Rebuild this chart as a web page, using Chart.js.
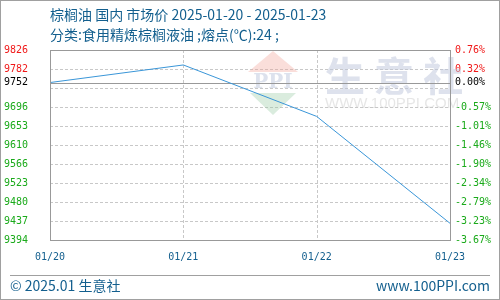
<!DOCTYPE html>
<html>
<head>
<meta charset="utf-8">
<script src="https://cdn.jsdelivr.net/npm/chart.js@4.4.1/dist/chart.umd.min.js"></script>
<style>
  html, body { margin: 0; padding: 0; background: #fff; }
  #wrap { width: 500px; height: 300px; position: relative; }
</style>
</head>
<body>
<div id="wrap"><canvas id="priceChart" width="500" height="300"></canvas></div>
<script>
// 数据
const categories = ['01/20', '01/21', '01/22', '01/23'];
const prices = [9752, 9792, 9675, 9432];
const basePrice = 9752;
const yTicks = [9394, 9437.2, 9480.4, 9523.6, 9566.8, 9610, 9653.2, 9696.4, 9739.6, 9782.8, 9826];
const yLabels = ['9394', '9437', '9480', '9523', '9566', '9610', '9653', '9696', '', '9782', '9826'];
const pctLabels = ['-3.67%', '-3.23%', '-2.79%', '-2.34%', '-1.90%', '-1.46%', '-1.01%', '-0.57%', '', '0.32%', '0.76%'];

const titleText = '棕榈油 国内 市场价 2025-01-20 - 2025-01-23';
const subText = '分类:食用精炼棕榈液油 ;熔点(℃):24 ;';

const RED = '#f01818';
const GREEN = '#1aaa1a';
const BLUE = '#135f8e';
const MONO = "'DejaVu Sans Mono', monospace";
const CLEAR = 'rgba(0,0,0,0)';

function tickColor(v) {
  if (v > basePrice) return RED;
  if (v === basePrice) return '#000';
  return GREEN;
}

function setTicks(scale) {
  const vals = yTicks.concat([basePrice]).sort((a, b) => a - b);
  scale.ticks = vals.map(v => ({ value: v }));
}

// 网格, 水印, 标题, 边框
const decor = {
  id: 'decor',
  beforeDatasetsDraw(chart) {
    const ctx = chart.ctx;
    const a = chart.chartArea;
    const y = chart.scales.y;
    const x = chart.scales.x;
    ctx.save();
    // 虚线网格
    ctx.strokeStyle = '#c8c8c8';
    ctx.lineWidth = 1;
    ctx.setLineDash([3, 2]);
    ctx.beginPath();
    yTicks.forEach(v => {
      const py = Math.round(y.getPixelForValue(v)) + 0.5;
      ctx.moveTo(a.left, py); ctx.lineTo(a.right, py);
    });
    categories.forEach((c, i) => {
      const px = Math.round(x.getPixelForValue(i)) + 0.5;
      ctx.moveTo(px, a.top); ctx.lineTo(px, a.bottom);
    });
    ctx.stroke();
    ctx.setLineDash([]);
    // logo
    ctx.fillStyle = 'rgba(240,160,150,0.35)';
    ctx.beginPath();
    ctx.moveTo(273, 51); ctx.lineTo(298, 72); ctx.lineTo(248, 72); ctx.closePath(); ctx.fill();
    ctx.fillStyle = 'rgba(150,200,160,0.35)';
    ctx.beginPath();
    ctx.moveTo(250, 93); ctx.lineTo(296, 93); ctx.lineTo(273, 115); ctx.closePath(); ctx.fill();
    ctx.fillStyle = 'rgba(180,190,215,0.45)';
    ctx.font = "bold 20px 'DejaVu Serif', serif";
    ctx.textAlign = 'center';
    ctx.textBaseline = 'middle';
    ctx.fillText('PPI', 273, 83);
    ctx.fillStyle = 'rgba(190,198,220,0.5)';
    ctx.font = "bold 40px 'Noto Sans CJK SC'";
    ctx.textAlign = 'left';
    ctx.fillText('生 意 社', 325, 76);
    ctx.fillStyle = 'rgba(200,200,200,0.45)';
    ctx.font = "15px 'Liberation Sans'";
    ctx.fillText('WWW.100PPI.COM', 325, 104);
    // 基准线
    const yb = Math.round(y.getPixelForValue(basePrice)) + 0.5;
    ctx.strokeStyle = '#999';
    ctx.beginPath();
    ctx.moveTo(a.left, yb); ctx.lineTo(a.right, yb); ctx.stroke();
    ctx.restore();
  },
  afterDraw(chart) {
    const ctx = chart.ctx;
    const a = chart.chartArea;
    ctx.save();
    ctx.strokeStyle = '#999';
    ctx.lineWidth = 1;
    ctx.strokeRect(Math.round(a.left) + 0.5, Math.round(a.top) + 0.5, Math.round(a.right - a.left), Math.round(a.bottom - a.top));
    ctx.strokeStyle = '#a0a0a0';
    ctx.strokeRect(0.5, 0.5, 499, 299);
    ctx.beginPath();
    ctx.moveTo(10, 275.5); ctx.lineTo(490, 275.5); ctx.stroke();

    ctx.fillStyle = BLUE;
    ctx.textBaseline = 'middle';
    ctx.textAlign = 'left';
    ctx.font = "14px 'Noto Sans CJK SC'";
    ctx.fillText(titleText, 50, 15);
    ctx.fillText(subText, 50, 35);
    ctx.fillText('© 2025.01 生意社', 10, 286);
    ctx.textAlign = 'right';
    ctx.fillText('www.100PPI.com', 490, 286);
    ctx.restore();
  }
};

new Chart(document.getElementById('priceChart'), {
  type: 'line',
  data: {
    labels: categories,
    datasets: [{
      data: prices,
      borderColor: '#3a96d8',
      borderWidth: 1,
      pointRadius: 0,
      tension: 0,
      fill: false
    }]
  },
  options: {
    responsive: false,
    animation: false,
    devicePixelRatio: 1,
    layout: { padding: { top: 50 } },
    plugins: {
      legend: { display: false },
      tooltip: { enabled: false }
    },
    scales: {
      x: {
        offset: false,
        afterFit(s) { s.height = 60; },
        border: { display: false },
        grid: { color: CLEAR, drawTicks: false },
        ticks: {
          color: BLUE,
          padding: 11,
          maxRotation: 0,
          font: { family: MONO, size: 10 }
        }
      },
      y: {
        position: 'left',
        min: 9394,
        max: 9826,
        afterBuildTicks: setTicks,
        afterFit(s) { s.width = 50; },
        border: { display: false },
        grid: { color: CLEAR, drawTicks: false },
        ticks: {
          autoSkip: false,
          padding: 22,
          font: { family: MONO, size: 10 },
          color: c => tickColor(c.tick.value),
          callback: v => v === basePrice ? String(basePrice) : yLabels[yTicks.indexOf(v)]
        }
      },
      y2: {
        position: 'right',
        min: 9394,
        max: 9826,
        afterBuildTicks: setTicks,
        afterFit(s) { s.width = 50; },
        border: { display: false },
        grid: { display: false, drawTicks: false },
        ticks: {
          autoSkip: false,
          padding: 5,
          font: { family: MONO, size: 10 },
          color: c => tickColor(c.tick.value),
          callback: v => v === basePrice ? '0.00%' : pctLabels[yTicks.indexOf(v)]
        }
      }
    }
  },
  plugins: [decor]
});
</script>
</body>
</html>
